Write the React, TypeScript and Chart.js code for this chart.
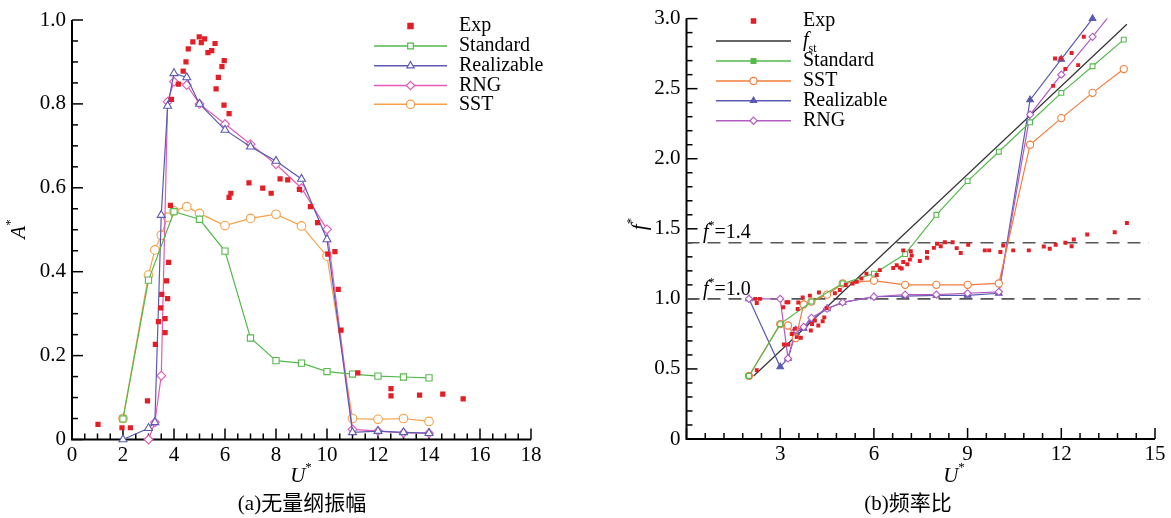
import React, { useEffect, useRef } from 'react';
import { Chart, registerables } from 'chart.js';

Chart.register(...registerables);
Chart.defaults.font.family = 'Liberation Serif';

const SERIF = '"Liberation Serif", "DejaVu Serif", serif';
const CAPTION = '"Liberation Serif", "Noto Sans CJK SC", serif';

// ---------- Panel (a): dimensionless amplitude A* vs U* ----------
const aStdX = [2, 3, 4, 5, 6, 7, 8, 9, 10, 11, 12, 13, 14];
const aStdY = [0.049, 0.38, 0.543, 0.525, 0.449, 0.242, 0.188, 0.182, 0.162, 0.156, 0.151, 0.149, 0.147];

const aRealX = [2, 3, 3.25, 3.5, 3.75, 4, 4.5, 5, 6, 7, 8, 9, 10, 11, 12, 13, 14];
const aRealY = [0, 0.027, 0.041, 0.535, 0.795, 0.873, 0.863, 0.8, 0.738, 0.698, 0.664, 0.621, 0.477, 0.017, 0.02, 0.017, 0.015];

const aRngX = [3, 3.25, 3.5, 3.75, 4, 4.5, 5, 6, 7, 8, 9, 10, 11, 12, 13, 14];
const aRngY = [0, 0.041, 0.152, 0.805, 0.853, 0.845, 0.8, 0.752, 0.704, 0.656, 0.599, 0.501, 0.024, 0.02, 0.016, 0.015];

const aSstX = [2, 3, 3.25, 3.5, 3.75, 4, 4.5, 5, 6, 7, 8, 9, 10, 11, 12, 13, 14];
const aSstY = [0.05, 0.392, 0.452, 0.487, 0.53, 0.545, 0.555, 0.539, 0.51, 0.527, 0.537, 0.509, 0.437, 0.05, 0.048, 0.05, 0.043];

const aExpX = [1.02, 1.96, 2.29, 2.96, 3.27, 3.39, 3.48, 3.52, 3.65, 3.65, 3.71, 3.75, 3.79, 3.86, 3.9, 4.17, 4.36, 4.47, 4.56, 4.74, 4.99, 5.07, 5.2, 5.33, 5.48, 5.61, 5.65, 5.74, 5.88, 5.96, 5.97, 6.16, 6.16, 6.23, 6.94, 7.48, 7.81, 8.16, 8.46, 8.92, 9.35, 9.63, 10.03, 10.31, 10.44, 10.55, 11.21, 12.51, 12.51, 13.63, 14.54, 15.34];
const aExpY = [0.036, 0.028, 0.028, 0.092, 0.227, 0.281, 0.314, 0.346, 0.288, 0.255, 0.378, 0.336, 0.422, 0.558, 0.811, 0.847, 0.878, 0.9, 0.931, 0.948, 0.96, 0.946, 0.955, 0.922, 0.927, 0.944, 0.836, 0.863, 0.889, 0.797, 0.903, 0.777, 0.577, 0.587, 0.612, 0.599, 0.587, 0.621, 0.619, 0.596, 0.555, 0.517, 0.442, 0.448, 0.358, 0.261, 0.159, 0.121, 0.104, 0.106, 0.108, 0.097];

// ---------- Panel (b): frequency ratio f* vs U* ----------
const bFstX = [2.15, 14.1];
const bFstY = [0.45, 2.96];

const bStdX = [2, 3, 4, 5, 6, 7, 8, 9, 10, 11, 12, 13, 14];
const bStdY = [0.45, 0.82, 0.98, 1.11, 1.18, 1.32, 1.6, 1.84, 2.05, 2.26, 2.47, 2.66, 2.85];

const bSstX = [2, 3, 3.25, 3.5, 3.75, 4, 4.5, 5, 6, 7, 8, 9, 10, 11, 12, 13, 14];
const bSstY = [0.45, 0.82, 0.81, 0.72, 0.96, 0.98, 1.03, 1.11, 1.13, 1.1, 1.1, 1.1, 1.11, 2.1, 2.29, 2.47, 2.64];

const bRealX = [2, 3, 3.25, 3.5, 3.75, 4, 4.5, 5, 6, 7, 8, 9, 10, 11, 12, 13];
const bRealY = [1.0, 0.515, 0.575, 0.76, 0.79, 0.85, 0.93, 0.975, 1.015, 1.02, 1.025, 1.025, 1.04, 2.42, 2.71, 3.0];

const bRngX = [2, 3, 3.25, 3.5, 3.75, 4, 4.5, 5, 6, 7, 8, 9, 10, 11, 12, 13, 14];
const bRngY = [1.0, 1.0, 0.575, 0.78, 0.8, 0.865, 0.93, 0.975, 1.015, 1.03, 1.03, 1.04, 1.05, 2.315, 2.6, 2.87, 3.15];

const bExpX = [2.2, 2.35, 2.25, 2.25, 3.1, 3.2, 3.26, 3.12, 3.26, 3.37, 3.53, 3.66, 3.47, 3.56, 3.58, 3.72, 3.95, 3.98, 4.02, 4.11, 4.22, 4.24, 4.36, 4.41, 4.49, 4.75, 4.91, 5.1, 5.32, 5.45, 5.6, 5.76, 6.09, 6.19, 6.62, 6.73, 6.83, 6.89, 6.94, 6.94, 7.07, 7.15, 7.18, 7.21, 7.47, 7.7, 7.7, 7.92, 8.02, 8.14, 8.27, 8.52, 8.65, 8.78, 9.02, 9.55, 9.69, 10.05, 10.14, 10.46, 10.96, 11.44, 11.63, 11.82, 12.13, 12.33, 12.4, 12.83, 13.71, 14.1, 11.74, 11.8, 11.98, 12.13, 12.33, 12.54, 12.72];
const bExpY = [1.0, 1.0, 0.97, 0.49, 0.94, 0.976, 0.976, 0.675, 0.675, 0.75, 0.727, 0.722, 0.786, 0.927, 0.974, 1.01, 1.023, 0.774, 0.82, 0.845, 0.81, 1.045, 0.84, 0.868, 0.934, 1.04, 1.063, 1.099, 1.11, 1.122, 1.145, 1.18, 1.17, 1.205, 1.22, 1.24, 1.223, 1.216, 1.263, 1.346, 1.247, 1.28, 1.34, 1.31, 1.27, 1.334, 1.294, 1.364, 1.393, 1.376, 1.404, 1.404, 1.362, 1.327, 1.386, 1.346, 1.346, 1.334, 1.381, 1.346, 1.346, 1.374, 1.357, 1.386, 1.4, 1.376, 1.423, 1.459, 1.475, 1.541, 2.52, 2.715, 2.715, 2.64, 2.754, 2.668, 2.87];

const refLevels = [1.4, 1.0];
const refX = [0, 14.8];

const pts = (xs: number[], ys: number[]) => xs.map((x, i) => ({ x, y: ys[i] }));

const RED = '#e31e24';
const GREEN = '#55b94b';
const BLUE = '#5a5ab4';
const PINK = '#e45ab4';
const ORANGE_A = '#f8a045';
const ORANGE_B = '#f47b3a';
const PURPLE = '#b25cc0';

type Run = { t: string; s: number; it?: boolean; dy?: number; font?: string };

function drawRuns(ctx: CanvasRenderingContext2D, runs: Run[], x: number, y: number, align: string) {
  const fontOf = (r: Run) => `${r.it ? 'italic ' : ''}${r.s}px ${r.font || SERIF}`;
  let total = 0;
  runs.forEach((r) => {
    ctx.font = fontOf(r);
    total += ctx.measureText(r.t).width;
  });
  let cx = align === 'center' ? x - total / 2 : align === 'right' ? x - total : x;
  ctx.textBaseline = 'middle';
  ctx.textAlign = 'left';
  ctx.fillStyle = '#000';
  runs.forEach((r) => {
    ctx.font = fontOf(r);
    ctx.fillText(r.t, cx, y + (r.dy || 0));
    cx += ctx.measureText(r.t).width;
  });
}

function drawMarker(ctx: CanvasRenderingContext2D, style: string, x: number, y: number, r: number, stroke: string, fill: string) {
  ctx.beginPath();
  if (style === 'rect') {
    const s = r * Math.SQRT1_2;
    ctx.rect(x - s, y - s, 2 * s, 2 * s);
  } else if (style === 'circle') {
    ctx.arc(x, y, r, 0, Math.PI * 2);
  } else if (style === 'triangle') {
    for (let k = 0; k < 3; k++) {
      const a = (k * 2 * Math.PI) / 3;
      const px = x + Math.sin(a) * r;
      const py = y - Math.cos(a) * r;
      if (k === 0) ctx.moveTo(px, py);
      else ctx.lineTo(px, py);
    }
    ctx.closePath();
  } else if (style === 'rectRot') {
    ctx.moveTo(x, y - r);
    ctx.lineTo(x + r, y);
    ctx.lineTo(x, y + r);
    ctx.lineTo(x - r, y);
    ctx.closePath();
  }
  ctx.fillStyle = fill;
  ctx.fill();
  ctx.strokeStyle = stroke;
  ctx.lineWidth = 1.2;
  ctx.stroke();
}

const decoPlugin = {
  id: 'deco',
  beforeDatasetsDraw(chart: any, _args: any, opts: any) {
    const { ctx, chartArea: a, scales } = chart;
    const xs = scales.x;
    const ys = scales.y;
    ctx.save();
    ctx.strokeStyle = '#000';
    ctx.lineWidth = 2;
    ctx.beginPath();
    ctx.moveTo(a.left, a.top);
    ctx.lineTo(a.left, a.bottom);
    ctx.lineTo(a.right, a.bottom);
    ctx.stroke();
    ctx.lineWidth = 1.5;
    const tick = (scale: any, major: number, minor: number, horiz: boolean) => {
      const n = Math.round((scale.max - scale.min) / minor);
      for (let k = 0; k <= n; k++) {
        const v = scale.min + k * minor;
        const isMajor = Math.abs(v / major - Math.round(v / major)) < 1e-6;
        const len = isMajor ? 11 : 6;
        const p = scale.getPixelForValue(v);
        ctx.beginPath();
        if (horiz) {
          ctx.moveTo(p, a.bottom);
          ctx.lineTo(p, a.bottom - len);
        } else {
          ctx.moveTo(a.left, p);
          ctx.lineTo(a.left + len, p);
        }
        ctx.stroke();
      }
    };
    tick(xs, opts.xMajor, opts.xMinor, true);
    tick(ys, opts.yMajor, opts.yMinor, false);
    ctx.restore();
  },
  afterDraw(chart: any, _args: any, opts: any) {
    const { ctx } = chart;
    ctx.save();
    (opts.legend || []).forEach((e: any) => {
      if (e.line) {
        ctx.strokeStyle = e.color;
        ctx.lineWidth = 1.5;
        ctx.beginPath();
        ctx.moveTo(opts.legendX1, e.y);
        ctx.lineTo(opts.legendX2, e.y);
        ctx.stroke();
      }
      if (e.marker) {
        drawMarker(ctx, e.marker, (opts.legendX1 + opts.legendX2) / 2, e.y, e.r, e.color, e.fill);
      }
      drawRuns(ctx, e.runs, opts.legendTextX, e.y, 'left');
    });
    (opts.texts || []).forEach((t: any) => {
      ctx.save();
      ctx.translate(t.x, t.y);
      if (t.rot) ctx.rotate((t.rot * Math.PI) / 180);
      drawRuns(ctx, t.runs, 0, 0, t.align || 'left');
      ctx.restore();
    });
    ctx.restore();
  },
};

const tickFont = { family: 'Liberation Serif', size: 21 };

function makeScales(xMax: number, xStep: number, yMax: number, yStep: number, yWidth: number, xHeight: number, hideZeroX: boolean) {
  return {
    x: {
      type: 'linear',
      min: 0,
      max: xMax,
      grid: { display: false, drawTicks: false },
      border: { display: false },
      ticks: {
        stepSize: xStep,
        font: tickFont,
        color: '#000',
        padding: 3,
        maxRotation: 0,
        callback: (v: number) => (hideZeroX && v === 0 ? '' : String(v)),
      },
      afterFit: (s: any) => {
        s.height = xHeight;
      },
    },
    y: {
      type: 'linear',
      min: 0,
      max: yMax,
      grid: { display: false, drawTicks: false },
      border: { display: false },
      ticks: {
        stepSize: yStep,
        font: tickFont,
        color: '#000',
        padding: 6,
        callback: (v: number) => (v === 0 ? '0' : v.toFixed(1)),
      },
      afterFit: (s: any) => {
        s.width = yWidth;
      },
    },
  };
}

function lineDs(label: string, xs: number[], ys: number[], color: string, style: string, r: number, fill: string, clip: any = 8) {
  return {
    label,
    data: pts(xs, ys),
    showLine: true,
    borderColor: color,
    borderWidth: 1.2,
    pointStyle: style,
    pointRadius: r,
    pointBorderColor: color,
    pointBackgroundColor: fill,
    pointBorderWidth: 1.1,
    clip,
  };
}

function expDs(xs: number[], ys: number[], r: number) {
  return {
    label: 'Exp',
    data: pts(xs, ys),
    showLine: false,
    pointStyle: 'rect',
    pointRadius: r,
    pointBorderWidth: 0,
    pointBorderColor: RED,
    pointBackgroundColor: RED,
    clip: 8,
  };
}

const star = (s: number, dy: number): Run => ({ t: '*', s, dy });

function leftConfig(): any {
  return {
    type: 'scatter',
    data: {
      datasets: [
        expDs(aExpX, aExpY, 3.7),
        lineDs('Standard', aStdX, aStdY, GREEN, 'rect', 4.4, '#fff'),
        lineDs('Realizable', aRealX, aRealY, BLUE, 'triangle', 4.6, '#fff'),
        lineDs('RNG', aRngX, aRngY, PINK, 'rectRot', 4.4, '#fff'),
        lineDs('SST', aSstX, aSstY, ORANGE_A, 'circle', 4.3, '#fff'),
      ],
    },
    options: {
      responsive: false,
      animation: false,
      layout: { padding: { left: 0, top: 20, right: 54, bottom: 0 } },
      plugins: {
        legend: { display: false },
        tooltip: { enabled: false },
        deco: {
          xMajor: 2, xMinor: 0.5, yMajor: 0.2, yMinor: 0.05,
          legendX1: 374, legendX2: 447, legendTextX: 459,
          legend: [
            { y: 26, color: RED, marker: 'rect', r: 3.7, fill: RED, line: false, runs: [{ t: 'Exp', s: 20 }] },
            { y: 46, color: GREEN, marker: 'rect', r: 4, fill: '#fff', line: true, runs: [{ t: 'Standard', s: 20 }] },
            { y: 65.7, color: BLUE, marker: 'triangle', r: 4.2, fill: '#fff', line: true, runs: [{ t: 'Realizable', s: 20 }] },
            { y: 85.5, color: PINK, marker: 'rectRot', r: 4.2, fill: '#fff', line: true, runs: [{ t: 'RNG', s: 20 }] },
            { y: 104.3, color: ORANGE_A, marker: 'circle', r: 4.2, fill: '#fff', line: true, runs: [{ t: 'SST', s: 20 }] },
          ],
          texts: [
            { x: 19, y: 229, rot: -90, align: 'center', runs: [{ t: 'A', s: 21, it: true }, star(13, -8)] },
            { x: 301, y: 476, align: 'center', runs: [{ t: 'U', s: 21, it: true }, star(13, -8)] },
            { x: 302, y: 504, align: 'center', runs: [{ t: '(a)无量纲振幅', s: 21, font: CAPTION }] },
          ],
        },
      },
      scales: makeScales(18, 2, 1.0, 0.2, 72, 78.5, false),
    },
    plugins: [decoPlugin],
  };
}

function rightConfig(): any {
  const refs = refLevels.map((lv) => ({
    label: 'ref' + lv,
    data: pts(refX, refX.map(() => lv)),
    showLine: true,
    borderColor: '#555',
    borderWidth: 1.6,
    borderDash: [13, 8],
    pointRadius: 0,
  }));
  return {
    type: 'scatter',
    data: {
      datasets: [
        expDs(bExpX, bExpY, 2.8),
        lineDs('Standard', bStdX, bStdY, GREEN, 'rect', 3.4, '#fff'),
        lineDs('SST', bSstX, bSstY, ORANGE_B, 'circle', 3.6, '#fff'),
        lineDs('RNG', bRngX, bRngY, PURPLE, 'rectRot', 3.6, '#fff', 0),
        lineDs('Realizable', bRealX, bRealY, BLUE, 'triangle', 3.8, BLUE),
        {
          label: 'fst',
          data: pts(bFstX, bFstY),
          showLine: true,
          borderColor: '#333',
          borderWidth: 1.2,
          pointRadius: 0,
        },
        ...refs,
      ],
    },
    options: {
      responsive: false,
      animation: false,
      layout: { padding: { left: 0, top: 14, right: 16, bottom: 0 } },
      plugins: {
        legend: { display: false },
        tooltip: { enabled: false },
        deco: {
          xMajor: 3, xMinor: 0.6, yMajor: 0.5, yMinor: 0.1,
          legendX1: 131, legendX2: 206, legendTextX: 218,
          legend: [
            { y: 21, color: RED, marker: 'rect', r: 3, fill: RED, line: false, runs: [{ t: 'Exp', s: 20 }] },
            { y: 41, color: '#333', line: true, runs: [{ t: 'f', s: 20, it: true }, { t: 'st', s: 12, dy: 8 }] },
            { y: 61, color: GREEN, marker: 'rect', r: 3.4, fill: GREEN, line: true, runs: [{ t: 'Standard', s: 20 }] },
            { y: 81, color: ORANGE_B, marker: 'circle', r: 3.6, fill: '#fff', line: true, runs: [{ t: 'SST', s: 20 }] },
            { y: 100.7, color: BLUE, marker: 'triangle', r: 3.6, fill: BLUE, line: true, runs: [{ t: 'Realizable', s: 20 }] },
            { y: 120.7, color: PURPLE, marker: 'rectRot', r: 3.6, fill: '#fff', line: true, runs: [{ t: 'RNG', s: 20 }] },
          ],
          texts: [
            { x: 55, y: 224, rot: -90, align: 'center', runs: [{ t: 'f', s: 21, it: true }, star(13, -8)] },
            { x: 369, y: 476, align: 'center', runs: [{ t: 'U', s: 21, it: true }, star(13, -8)] },
            { x: 323, y: 504, align: 'center', runs: [{ t: '(b)频率比', s: 21, font: CAPTION }] },
            { x: 118, y: 233, align: 'left', runs: [{ t: 'f', s: 20, it: true }, star(12, -7), { t: '=1.4', s: 20 }] },
            { x: 118, y: 290, align: 'left', runs: [{ t: 'f', s: 20, it: true }, star(12, -7), { t: '=1.0', s: 20 }] },
          ],
        },
      },
      scales: makeScales(15, 3, 3.0, 0.5, 101.5, 79, true),
    },
    plugins: [decoPlugin],
  };
}

export default function App() {
  const leftRef = useRef<HTMLCanvasElement | null>(null);
  const rightRef = useRef<HTMLCanvasElement | null>(null);

  useEffect(() => {
    const c1 = new Chart(leftRef.current as HTMLCanvasElement, leftConfig());
    const c2 = new Chart(rightRef.current as HTMLCanvasElement, rightConfig());
    return () => {
      c1.destroy();
      c2.destroy();
    };
  }, []);

  return (
    <div style={{ position: 'absolute', left: 0, top: 0, width: 1171, height: 518, background: '#fff', overflow: 'hidden' }}>
      <canvas ref={leftRef} width={585} height={518} style={{ position: 'absolute', left: 0, top: 0, width: 585, height: 518 }} />
      <canvas ref={rightRef} width={586} height={518} style={{ position: 'absolute', left: 585, top: 0, width: 586, height: 518 }} />
    </div>
  );
}
